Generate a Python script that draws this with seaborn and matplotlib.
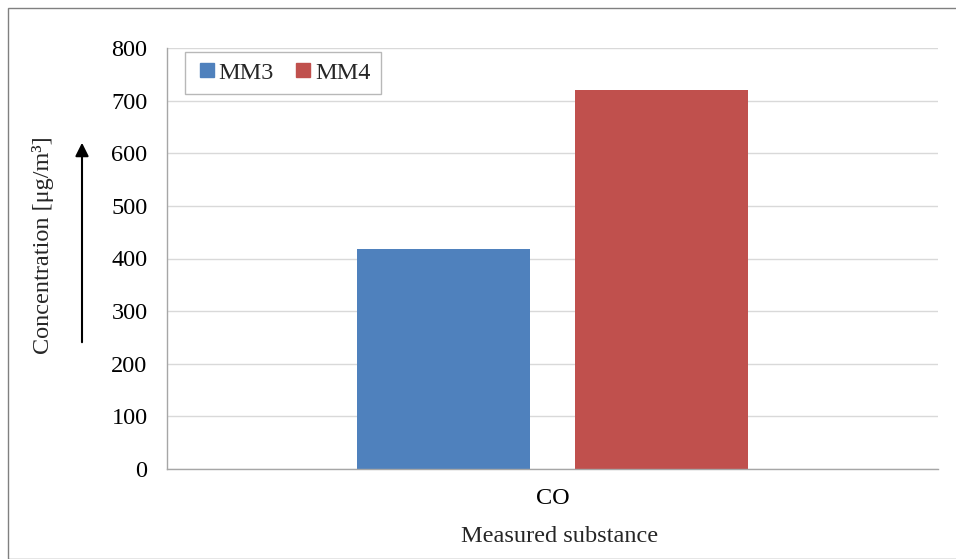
import matplotlib
matplotlib.use("Agg")
import matplotlib.pyplot as plt
from matplotlib.patches import Rectangle, FancyArrowPatch
from matplotlib.lines import Line2D
import seaborn as sns
import pandas as pd

categories = ["CO"]
series = ["MM3", "MM4"]
values_mm3 = [418]
values_mm4 = [720]
colors = ["#4F81BD", "#C0504D"]
yticks = [0, 100, 200, 300, 400, 500, 600, 700, 800]

df = pd.DataFrame({
    "substance": categories * 2,
    "series": ["MM3"] * len(categories) + ["MM4"] * len(categories),
    "value": values_mm3 + values_mm4,
})

sns.set_theme(style="white")
plt.rcParams["font.family"] = ["Liberation Serif", "DejaVu Serif"]

FS = 17.5

fig = plt.figure(figsize=(9.56, 5.59), dpi=100)
ax = fig.add_axes([167 / 956, 1 - 469 / 559, (938 - 167) / 956, (469 - 48) / 559])

sns.barplot(data=df, x="substance", y="value", hue="series", palette=colors,
            width=0.566, gap=0.21, ax=ax, legend=False, saturation=1,
            linewidth=0)

ax.set_xlim(-0.5, 0.5)
ax.set_ylim(0, 800)
ax.set_yticks(yticks)
ax.yaxis.grid(True, color="#D9D9D9", linewidth=1)
ax.set_axisbelow(True)
for s in ["top", "right"]:
    ax.spines[s].set_visible(False)
for s in ["left", "bottom"]:
    ax.spines[s].set_color("#A6A6A6")
    ax.spines[s].set_linewidth(1)
ax.tick_params(axis="both", length=0, labelsize=FS, colors="black")
ax.tick_params(axis="x", pad=14)
ax.tick_params(axis="y", pad=14)
ax.set_xlabel("Measured substance", fontsize=FS)
ax.xaxis.set_label_coords(0.509, -0.16)
ax.xaxis.label.set_va("center")
ax.set_ylabel("")

fig.text(43 / 956, 1 - 245 / 559, "Concentration [μg/m³]", rotation=90,
         fontsize=FS, ha="center", va="center")
arrow = FancyArrowPatch((82 / 956, 1 - 345 / 559), (82 / 956, 1 - 140 / 559),
                        transform=fig.transFigure, arrowstyle="-|>",
                        mutation_scale=20, color="black", linewidth=1.5)
fig.patches.append(arrow)

handles = [Line2D([0], [0], marker="s", linestyle="none", markersize=9.5,
                  markerfacecolor=c, markeredgecolor=c) for c in colors]
leg = ax.legend(handles, series, loc="upper left", bbox_to_anchor=(0.023, 0.99),
                fontsize=FS, frameon=True, fancybox=False, ncol=2,
                handletextpad=0.0, columnspacing=0.7, borderpad=0.4,
                handlelength=1.0, borderaxespad=0)
leg.get_frame().set_edgecolor("#A6A6A6")
leg.get_frame().set_linewidth(1)

fig.patches.append(Rectangle((8 / 956, 0), 1, 1 - 8 / 559, transform=fig.transFigure,
                             fill=False, edgecolor="#808080", linewidth=1))

fig.savefig("out.png", dpi=100)
